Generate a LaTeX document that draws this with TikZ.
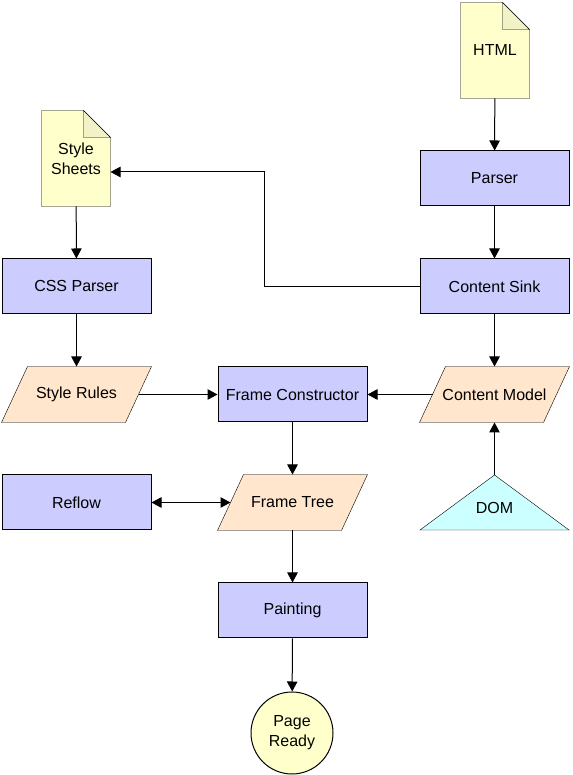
\documentclass[tikz,border=0pt]{standalone}
\usepackage{fontspec}
\setmainfont{Liberation Sans}
\usetikzlibrary{shapes, arrows.meta, positioning, calc, backgrounds}
\definecolor{procblue}{RGB}{204, 204, 255}
\definecolor{dataorange}{RGB}{255, 230, 204}
\definecolor{docyellow}{RGB}{255, 255, 204}
\definecolor{docfold}{RGB}{242, 242, 200}
\definecolor{domcyan}{RGB}{204, 255, 255}
\tikzset{
    procbox/.style={draw, fill=procblue, minimum width=149pt, minimum height=55pt, inner sep=0pt},
    databox/.style={minimum width=149pt, minimum height=55pt, inner sep=0pt},
    docbox/.style={minimum width=68pt, minimum height=95pt, inner sep=0pt, align=center},
    arr/.style={-{Triangle[length=10pt, width=10.5pt]}},
    biarr/.style={{Triangle[length=10pt, width=10.5pt]}-{Triangle[length=10pt, width=10.5pt]}},
}
\newcommand{\docshape}[1]{%
    \draw[fill=docyellow] (#1.south west) -- (#1.north west) -- ([xshift=-27pt]#1.north east)
        -- ([yshift=-27pt]#1.north east) -- (#1.south east) -- cycle;
    \draw[fill=docfold] ([xshift=-27pt]#1.north east) -- ([xshift=-27pt, yshift=-27pt]#1.north east)
        -- ([yshift=-27pt]#1.north east) -- cycle;
}
\newcommand{\datashape}[1]{%
    \draw[fill=dataorange] (#1.south west) -- ([xshift=26pt]#1.north west) -- (#1.north east)
        -- ([xshift=-26pt]#1.south east) -- cycle;
}

\begin{document}
\begin{tikzpicture}[x=1pt, y=1pt, line width=1pt, font=\fontsize{16}{20}\selectfont]
    \useasboundingbox (0,0) rectangle (572,775);

    % Documents
    \node[docbox] (html) at (495,724.5) {HTML};
    \node[docbox] (sheets) at (76,616.5) {Style\\Sheets};

    % Process boxes
    \node[procbox] (parser) at (494.5,596.5) {Parser};
    \node[procbox] (sink) at (494.5,488.5) {Content Sink};
    \node[procbox] (cssparser) at (76.5,488.5) {CSS Parser};
    \node[procbox] (constructor) at (292.5,380.5) {Frame Constructor};
    \node[procbox] (reflow) at (76.5,272.5) {Reflow};
    \node[procbox] (painting) at (292.5,164.5) {Painting};

    % Data
    \node[databox] (rules) at (76.5,380.5) {Style Rules};
    \node[databox] (model) at (494.5,380.5) {Content Model};
    \node[databox] (tree) at (292.5,272.5) {Frame Tree};

    % DOM and end
    \node (dom) at (494.5,267) {DOM};
    \coordinate (domtop) at (494.5,300);
    \node[draw, circle, fill=docyellow, minimum size=82pt, inner sep=0pt, align=center] (ready) at (292,42) {Page\\Ready};

    \begin{scope}[on background layer]
        \docshape{html}
        \docshape{sheets}
        \datashape{rules}
        \datashape{model}
        \datashape{tree}
        \draw[fill=domcyan] (420,245) -- (domtop) -- (569,245) -- cycle;
    \end{scope}

    % Arrows
    \draw[arr] (html) -- (parser);
    \draw[arr] (parser) -- (sink);
    \draw[arr] (sink) -- (model);
    \draw[arr] (sink.west) -- ++(-155,0) |- ([yshift=-13.5pt]sheets.east);
    \draw[arr] (sheets) -- (cssparser);
    \draw[arr] (cssparser) -- (rules);
    \draw[arr] ([xshift=-13pt]rules.east) -- (constructor.west);
    \draw[arr] ([xshift=13pt]model.west) -- (constructor.east);
    \draw[arr] (domtop) -- (model.south);
    \draw[arr] (constructor) -- (tree);
    \draw[biarr] (reflow.east) -- ([xshift=13pt]tree.west);
    \draw[arr] (tree) -- (painting);
    \draw[arr] (painting) -- (ready);
\end{tikzpicture}
\end{document}
